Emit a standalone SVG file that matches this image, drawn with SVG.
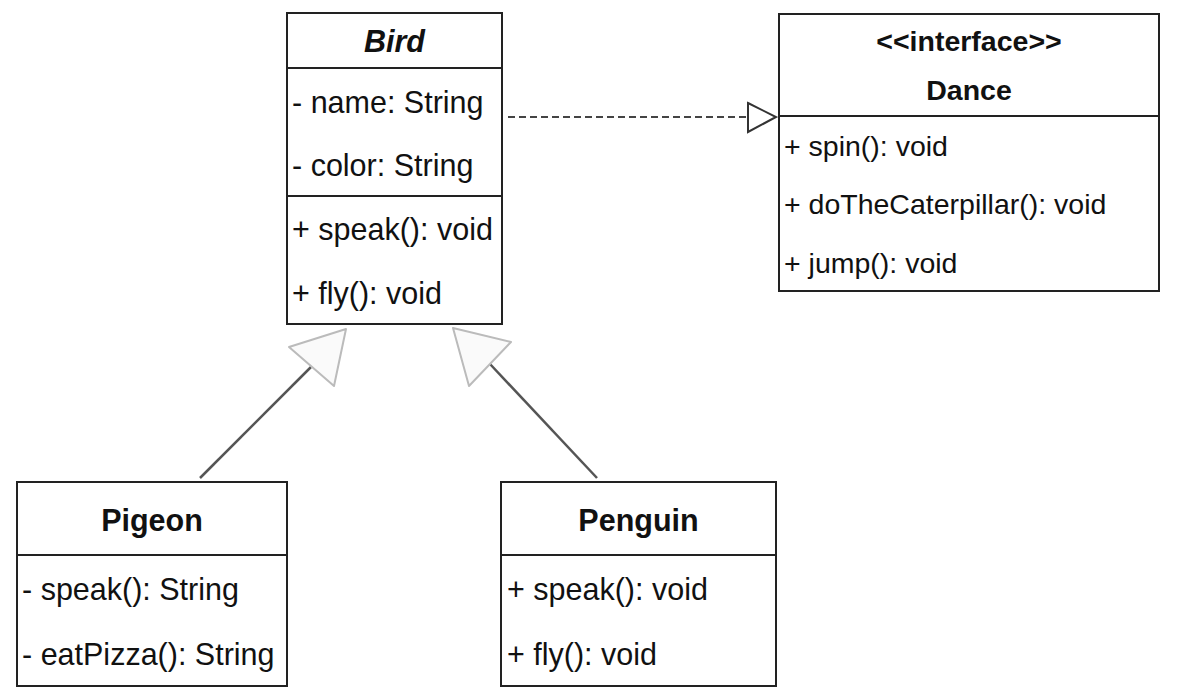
<svg xmlns="http://www.w3.org/2000/svg" width="1178" height="699" viewBox="0 0 1178 699">
<style>
.box{fill:#fff;stroke:#222;stroke-width:2}
.div{stroke:#222;stroke-width:2}
.t{font-family:"Liberation Sans",Arial,sans-serif;font-size:30.5px;fill:#111}
.d{font-family:"Liberation Sans",Arial,sans-serif;font-size:28.5px;fill:#111}
.b{font-weight:bold}
.c{text-anchor:middle}
.gen{stroke:#555;stroke-width:2.5;fill:none}
.genhead{fill:#fafafa;stroke:#bbb;stroke-width:2;stroke-linejoin:round}
.real{stroke:#444;stroke-width:2;stroke-dasharray:7 4;fill:none}
.realhead{fill:#fff;stroke:#333;stroke-width:2}
</style>
<rect width="1178" height="699" fill="#fff"/>
<g id="connectors">
<line class="real" x1="508" y1="117" x2="748" y2="117"/>
<polygon class="realhead" points="748,103 776,117 748,132"/>
<line class="gen" x1="200" y1="478" x2="311" y2="367"/>
<polygon class="genhead" points="346,329 289,347 334,386"/>
<line class="gen" x1="597" y1="478" x2="490" y2="364"/>
<polygon class="genhead" points="453,328 511,342 469,386"/>
</g>
<g id="bird">
<rect class="box" x="287" y="13" width="215" height="311"/>
<line class="div" x1="287" y1="68" x2="502" y2="68"/>
<line class="div" x1="287" y1="196" x2="502" y2="196"/>
<text class="t b c" x="394.5" y="52" font-style="italic" font-size="30">Bird</text>
<text class="t" x="292" y="113">- name: String</text>
<text class="t" x="292" y="176">- color: String</text>
<text class="t" x="292" y="240">+ speak(): void</text>
<text class="t" x="292" y="304">+ fly(): void</text>
</g>
<g id="dance">
<rect class="box" x="779" y="14" width="380" height="277"/>
<line class="div" x1="779" y1="116" x2="1159" y2="116"/>
<text class="d b c" x="969" y="51">&lt;&lt;interface&gt;&gt;</text>
<text class="d b c" x="969" y="100">Dance</text>
<text class="d" x="784" y="156">+ spin(): void</text>
<text class="d" x="784" y="214">+ doTheCaterpillar(): void</text>
<text class="d" x="784" y="273">+ jump(): void</text>
</g>
<g id="pigeon">
<rect class="box" x="17" y="482" width="270" height="204"/>
<line class="div" x1="17" y1="555" x2="287" y2="555"/>
<text class="t b c" x="152" y="531" font-size="30">Pigeon</text>
<text class="t" x="22" y="600">- speak(): String</text>
<text class="t" x="22" y="665">- eatPizza(): String</text>
</g>
<g id="penguin">
<rect class="box" x="501" y="482" width="275" height="204"/>
<line class="div" x1="501" y1="555" x2="776" y2="555"/>
<text class="t b c" x="638.5" y="531" font-size="30">Penguin</text>
<text class="t" x="507" y="600">+ speak(): void</text>
<text class="t" x="507" y="665">+ fly(): void</text>
</g>
</svg>
